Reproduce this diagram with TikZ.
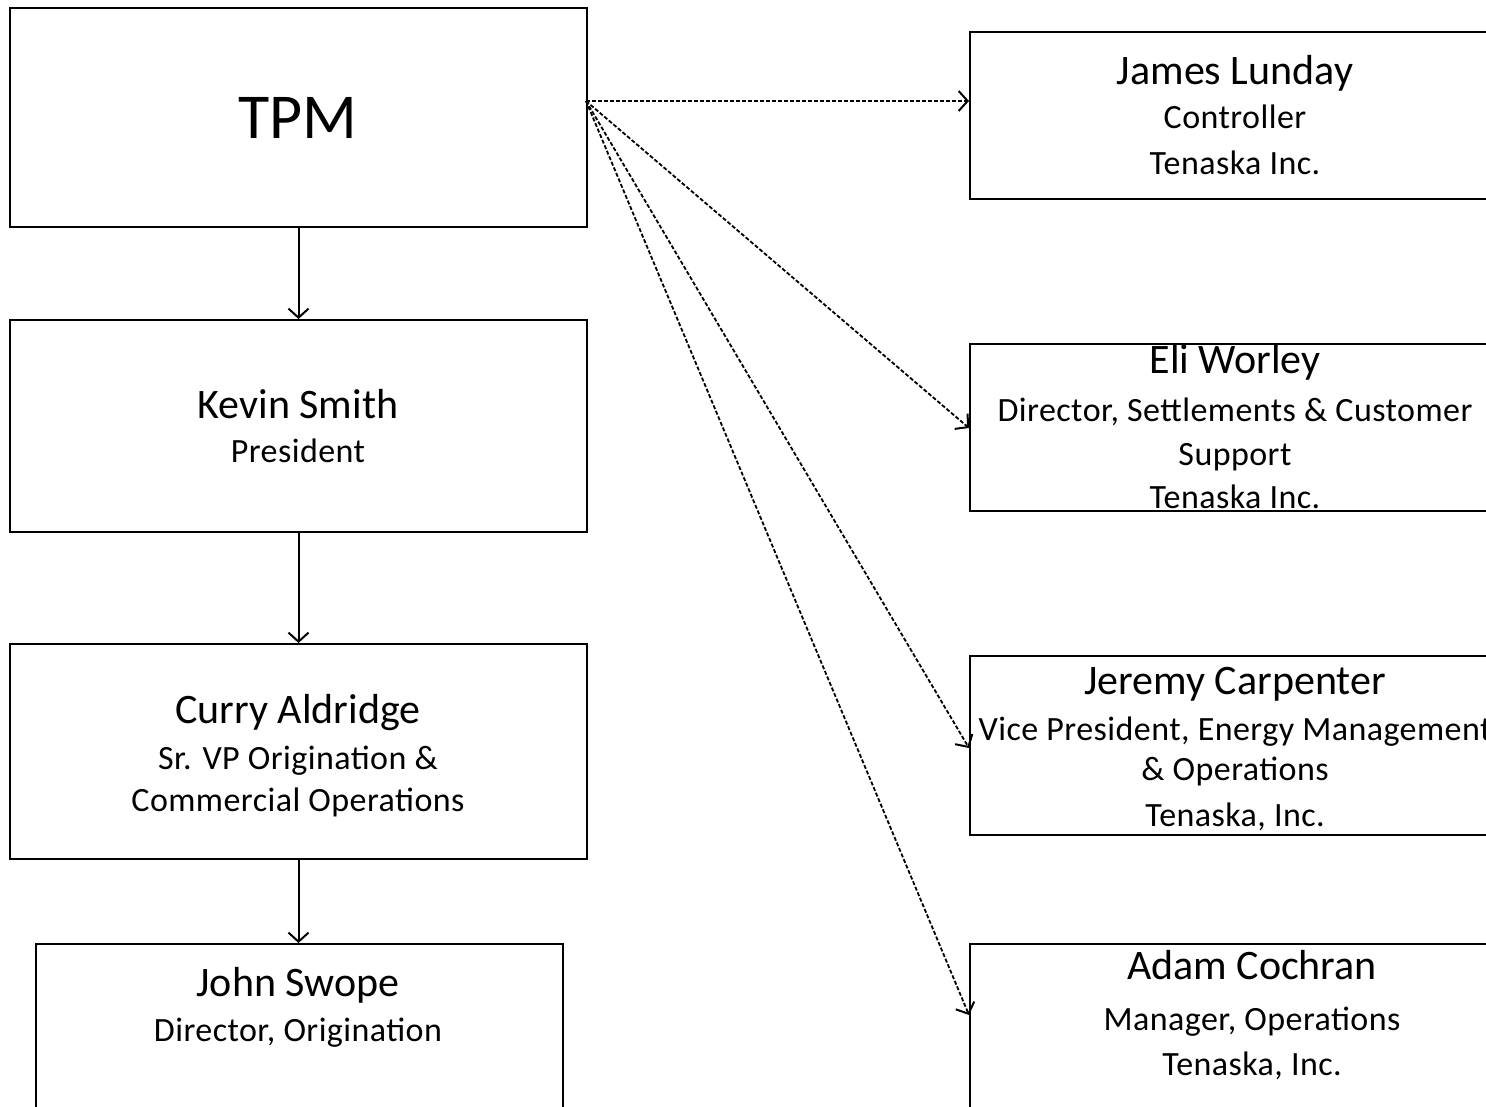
\documentclass[tikz,border=0pt]{standalone}
\usepackage{fontspec}
\setmainfont{Carlito}
\newfontfamily\titlefont[LetterSpace=1.3]{Carlito}
\usetikzlibrary{arrows.meta}
\tikzset{
  box/.style={draw=black, line width=2pt, fill=white, rectangle, anchor=north west, inner sep=0pt},
  namet/.style={anchor=base, inner sep=0pt, font=\fontsize{42}{50}\selectfont},
  titlet/.style={anchor=base, inner sep=0pt, font=\titlefont\fontsize{34}{40}\selectfont},
  bigt/.style={anchor=base, inner sep=0pt, font=\fontsize{64}{76}\selectfont},
  solidarrow/.style={draw=black, line width=2pt, -{Straight Barb[length=9pt,width=20pt,line width=2pt]}},
  dotarrow/.style={draw=black, line width=1.8pt, dash pattern=on 4pt off 2pt, -{Straight Barb[length=9pt,width=20pt,line width=2pt]}}
}
\begin{document}
\begin{tikzpicture}[x=1pt,y=-1pt]
\useasboundingbox (0,0) rectangle (1486,1106);
\clip (0,0) rectangle (1486,1106);
\fill[white] (0,0) rectangle (1486,1106);

% left column boxes
\node[box, minimum width=577pt, minimum height=219pt] (tpm) at (9,7) {};
\node[box, minimum width=577pt, minimum height=212pt] (kevin) at (9,319) {};
\node[box, minimum width=577pt, minimum height=215pt] (curry) at (9,643) {};
\node[box, minimum width=527pt, minimum height=260pt] (john) at (35,943) {};

% right column boxes
\node[box, minimum width=532pt, minimum height=167pt] (james) at (969,31) {};
\node[box, minimum width=532pt, minimum height=167pt] (eli) at (969,343) {};
\node[box, minimum width=532pt, minimum height=179pt] (jeremy) at (969,655) {};
\node[box, minimum width=566pt, minimum height=260pt] (adam) at (969,943) {};

% texts
\node[bigt] (tpmt) at (298,138) {TPM};
\node[namet] (kevinn) at (298,418.5) {Kevin Smith};
\node[titlet] (kevint) at (298,462) {President};
\node[namet] (curryn) at (298,723.5) {Curry Aldridge};
\node[titlet] (curryt1) at (298,769) {Sr. VP Origination \&};
\node[titlet] (curryt2) at (298,811) {Commercial Operations};
\node[namet] (johnn) at (298,996.5) {John Swope};
\node[titlet] (johnt) at (298,1041) {Director, Origination};

\node[namet] (jamesn) at (1235,84.5) {James Lunday};
\node[titlet] (jamest1) at (1235,128) {Controller};
\node[titlet] (jamest2) at (1235,174) {Tenaska Inc.};

\node[namet] (elin) at (1235,373.5) {Eli Worley};
\node[titlet] (elit1) at (1235,421) {Director, Settlements \& Customer};
\node[titlet] (elit2) at (1235,465) {Support};
\node[titlet] (elit3) at (1235,508) {Tenaska Inc.};

\node[namet] (jeremyn) at (1235,694.5) {Jeremy Carpenter};
\node[titlet] (jeremyt1) at (1235,740) {Vice President, Energy Management};
\node[titlet] (jeremyt2) at (1235,780) {\& Operations};
\node[titlet] (jeremyt3) at (1235,826) {Tenaska, Inc.};

\node[namet] (adamn) at (1252,979.5) {Adam Cochran};
\node[titlet] (adamt1) at (1252,1030) {Manager, Operations};
\node[titlet] (adamt2) at (1252,1075) {Tenaska, Inc.};

% connectors
\draw[solidarrow] (tpm.south) -- (kevin.north);
\draw[solidarrow] (kevin.south) -- (curry.north);
\draw[solidarrow] (curry.south) -- (curry.south |- john.north);

\coordinate (src) at (586,101);
\coordinate (jamesin) at (969,101);
\coordinate (eliin) at (969,428);
\coordinate (jeremyin) at (969,748);
\coordinate (adamin) at (969,1015);
\draw[dotarrow] (src) -- (jamesin);
\draw[dotarrow] (src) -- (eliin);
\draw[dotarrow] (src) -- (jeremyin);
\draw[dotarrow] (src) -- (adamin);
\end{tikzpicture}
\end{document}
